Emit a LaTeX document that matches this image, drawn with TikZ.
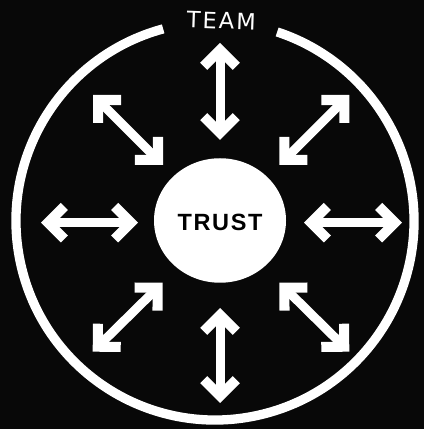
\documentclass[tikz,border=0pt]{standalone}
\usepackage{fontspec}
\setmainfont{Liberation Sans}
\newfontfamily\teamfont[LetterSpace=9]{DejaVu Sans}
\newfontfamily\trustfont[LetterSpace=7]{Liberation Sans}
\usetikzlibrary{arrows.meta,shapes.geometric}
\definecolor{bgblack}{RGB}{8,8,8}
\pgfdeclarearrow{
  name = Chev,
  setup code = {
    \pgfarrowssettipend{0pt}
    \pgfarrowssetlineend{-9pt}
    \pgfarrowssetvisualbackend{-14.1pt}
    \pgfarrowssetbackend{-26.9pt}
    \pgfarrowshullpoint{0pt}{0pt}
    \pgfarrowsupperhullpoint{-19.8pt}{19.8pt}
    \pgfarrowsupperhullpoint{-26.9pt}{12.7pt}
  },
  drawing code = {
    \pgfpathmoveto{\pgfpointorigin}
    \pgfpathlineto{\pgfpoint{-19.8pt}{19.8pt}}
    \pgfpathlineto{\pgfpoint{-26.9pt}{12.7pt}}
    \pgfpathlineto{\pgfpoint{-14.1pt}{0pt}}
    \pgfpathlineto{\pgfpoint{-26.9pt}{-12.7pt}}
    \pgfpathlineto{\pgfpoint{-19.8pt}{-19.8pt}}
    \pgfpathclose
    \pgfusepathqfill
  }
}
\begin{document}
\begin{tikzpicture}[x=1pt,y=1pt,
  bigarrow/.style={draw=white, fill=white, line width=9pt, arrows={Chev-Chev}},
  ring/.style={draw=white, line width=9.3pt},
  core/.style={ellipse, fill=white, inner sep=0pt, minimum width=132pt, minimum height=124.5pt},
  teamlabel/.style={text=white, font=\teamfont\fontsize{22.5}{22.5}\selectfont, inner sep=0pt, anchor=base, rotate=-2},
  trustlabel/.style={text=black, font=\trustfont\bfseries\fontsize{23.5}{23.5}\selectfont, inner sep=0pt, anchor=base}]
\fill[bgblack] (0,0) rectangle (424,429);
\useasboundingbox (0,0) rectangle (424,429);
% outer ring with gap for the label
\draw[ring] (215,208) ++(105.1:199) arc[start angle=105.1, end angle=431.8, radius=199];
\node[teamlabel] (team) at (221,400) {TEAM};
% central circle
\node[core] (trustc) at (220,208.5) {};
\node[trustlabel] (trust) at (220,198.3) {TRUST};
% arrow end points
\coordinate (t1) at (220,386);   \coordinate (t2) at (220,289);
\coordinate (b1) at (220,121);   \coordinate (b2) at (220,26);
\coordinate (l1) at (41,206.3);  \coordinate (l2) at (138,206.3);
\coordinate (r1) at (304,206.3); \coordinate (r2) at (402,206.3);
\coordinate (tl1) at (93,334);   \coordinate (tl2) at (163,264);
\coordinate (tr1) at (349.3,334);\coordinate (tr2) at (279.3,264);
\coordinate (bl1) at (162.7,146.3); \coordinate (bl2) at (92.7,77.3);
\coordinate (br1) at (279.3,146.3); \coordinate (br2) at (349.3,77.3);
\draw[bigarrow] (t1) -- (t2);
\draw[bigarrow] (b1) -- (b2);
\draw[bigarrow] (l1) -- (l2);
\draw[bigarrow] (r1) -- (r2);
\draw[bigarrow] (tl1) -- (tl2);
\draw[bigarrow] (tr1) -- (tr2);
\draw[bigarrow] (bl1) -- (bl2);
\draw[bigarrow] (br1) -- (br2);
\end{tikzpicture}
\end{document}
